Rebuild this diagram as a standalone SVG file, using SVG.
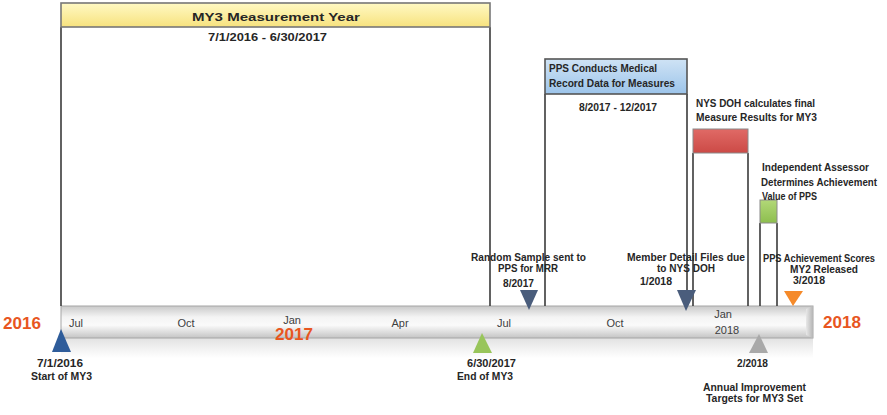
<svg xmlns="http://www.w3.org/2000/svg" width="887" height="415" viewBox="0 0 887 415">
<defs>
<style>
.t{font-family:"Liberation Sans",Arial,sans-serif;font-weight:bold;font-size:11px;fill:#262626}
.m{font-family:"Liberation Sans",Arial,sans-serif;font-size:11px;fill:#404040}
.yr{font-family:"Liberation Sans",Arial,sans-serif;font-weight:bold;font-size:17px;fill:#E8561F}
.line{stroke:#3a3a3a;stroke-width:1.6;fill:none}
</style>
<linearGradient id="gy" x1="0" y1="0" x2="0" y2="1"><stop offset="0" stop-color="#FFF9C4"/><stop offset="1" stop-color="#F7E27E"/></linearGradient>
<linearGradient id="gb" x1="0" y1="0" x2="0" y2="1"><stop offset="0" stop-color="#CFE3F5"/><stop offset="1" stop-color="#9CC4EA"/></linearGradient>
<linearGradient id="gr" x1="0" y1="0" x2="0" y2="1"><stop offset="0" stop-color="#E06A66"/><stop offset="1" stop-color="#CC4A46"/></linearGradient>
<linearGradient id="gg" x1="0" y1="0" x2="0" y2="1"><stop offset="0" stop-color="#B2D878"/><stop offset="1" stop-color="#8DBE4E"/></linearGradient>
<linearGradient id="gbar" x1="0" y1="0" x2="0" y2="1"><stop offset="0" stop-color="#C9C9C9"/><stop offset="0.35" stop-color="#F4F4F4"/><stop offset="0.6" stop-color="#FAFAFA"/><stop offset="1" stop-color="#C4C4C4"/></linearGradient>
<linearGradient id="gref" x1="0" y1="0" x2="0" y2="1"><stop offset="0" stop-color="#E2E2E2"/><stop offset="1" stop-color="#FFFFFF"/></linearGradient>
<linearGradient id="gend" x1="0" y1="0" x2="1" y2="0"><stop offset="0" stop-color="#E8E8E8"/><stop offset="1" stop-color="#B5B5B5"/></linearGradient>
</defs>
<rect width="887" height="415" fill="#fff"/>

<g id="timeline-bar">
<rect x="61" y="338" width="752" height="20" fill="url(#gref)"/>
<rect x="61" y="306" width="752" height="32" fill="url(#gbar)" stroke="#A6A6A6" stroke-width="1"/>
<polygon points="806,309 813,306 813,338 806,335" fill="url(#gend)"/>
<text class="m" x="76" y="327" text-anchor="middle">Jul</text>
<text class="m" x="186" y="327" text-anchor="middle">Oct</text>
<text class="m" x="292" y="324" text-anchor="middle">Jan</text>
<text class="m" x="400" y="327" text-anchor="middle">Apr</text>
<text class="m" x="504" y="327" text-anchor="middle">Jul</text>
<text class="m" x="615" y="327" text-anchor="middle">Oct</text>
<text class="m" x="723" y="318" text-anchor="middle">Jan</text>
<text class="m" x="727" y="334" text-anchor="middle">2018</text>
<text class="yr" x="3" y="329" textLength="38" lengthAdjust="spacingAndGlyphs">2016</text>
<text class="yr" x="275" y="340" textLength="38" lengthAdjust="spacingAndGlyphs">2017</text>
<text class="yr" x="823" y="328" textLength="38" lengthAdjust="spacingAndGlyphs">2018</text>
</g>

<g id="connectors">
<line class="line" x1="61" y1="27" x2="61" y2="306"/>
<line class="line" x1="490" y1="27" x2="490" y2="306"/>
<line class="line" x1="545" y1="94" x2="545" y2="306"/>
<line class="line" x1="687" y1="94" x2="687" y2="306"/>
<line class="line" x1="693" y1="153" x2="693" y2="306"/>
<line class="line" x1="748" y1="153" x2="748" y2="306"/>
<line class="line" x1="760" y1="223" x2="760" y2="306"/>
<line class="line" x1="777" y1="223" x2="777" y2="306"/>
</g>

<g id="my3-year">
<rect x="61" y="3" width="429" height="24" fill="url(#gy)" stroke="#777" stroke-width="1.6"/>
<text class="t" x="192" y="21" font-size="15" textLength="168" lengthAdjust="spacingAndGlyphs">MY3 Measurement Year</text>
<text class="t" x="208" y="41" textLength="119" lengthAdjust="spacingAndGlyphs">7/1/2016 - 6/30/2017</text>
</g>

<g id="pps-medical-record">
<rect x="545" y="59" width="142" height="35" fill="url(#gb)" stroke="#555" stroke-width="1.6"/>
<text class="t" x="549" y="72" textLength="108" lengthAdjust="spacingAndGlyphs">PPS Conducts Medical</text>
<text class="t" x="549" y="87" textLength="126" lengthAdjust="spacingAndGlyphs">Record Data for Measures</text>
<text class="t" x="579" y="111" textLength="78" lengthAdjust="spacingAndGlyphs">8/2017 - 12/2017</text>
</g>

<g id="nys-doh-calculates">
<rect x="693" y="129" width="55" height="24" fill="url(#gr)" stroke="#8a8a8a" stroke-width="1"/>
<text class="t" x="696" y="107" textLength="119" lengthAdjust="spacingAndGlyphs">NYS DOH calculates final</text>
<text class="t" x="696" y="121" textLength="121" lengthAdjust="spacingAndGlyphs">Measure Results for MY3</text>
</g>

<g id="independent-assessor">
<rect x="760" y="200" width="17" height="23" fill="url(#gg)" stroke="#8a8a8a" stroke-width="1"/>
<text class="t" x="762" y="171" textLength="107" lengthAdjust="spacingAndGlyphs">Independent Assessor</text>
<text class="t" x="761" y="186" font-size="10" textLength="116" lengthAdjust="spacingAndGlyphs">Determines Achievement</text>
<text class="t" x="762" y="200" textLength="55" lengthAdjust="spacingAndGlyphs">Value of PPS</text>
</g>

<g id="random-sample">
<polygon points="520,290 538,290 529,310" fill="#4A5D7C"/>
<text class="t" x="471" y="261" textLength="115" lengthAdjust="spacingAndGlyphs">Random Sample sent to</text>
<text class="t" x="498" y="272" textLength="60" lengthAdjust="spacingAndGlyphs">PPS for MRR</text>
<text class="t" x="503" y="287" textLength="31" lengthAdjust="spacingAndGlyphs">8/2017</text>
</g>

<g id="member-detail-files">
<polygon points="677,290 696,290 686,311" fill="#4A5D7C"/>
<text class="t" x="627" y="261" textLength="118" lengthAdjust="spacingAndGlyphs">Member Detail Files due</text>
<text class="t" x="657" y="272" textLength="58" lengthAdjust="spacingAndGlyphs">to NYS DOH</text>
<text class="t" x="640" y="285" textLength="32" lengthAdjust="spacingAndGlyphs">1/2018</text>
</g>

<g id="pps-achievement-scores">
<polygon points="784,291 803,291 793,306" fill="#F58A2A"/>
<text class="t" x="763" y="262" font-size="9.8" textLength="112" lengthAdjust="spacingAndGlyphs">PPS Achievement Scores</text>
<text class="t" x="790" y="273" textLength="68" lengthAdjust="spacingAndGlyphs">MY2 Released</text>
<text class="t" x="793" y="284" textLength="32" lengthAdjust="spacingAndGlyphs">3/2018</text>
</g>

<g id="start-my3">
<polygon points="52,352 71,352 61,329" fill="#2E5C9A"/>
<text class="t" x="37" y="367" textLength="46" lengthAdjust="spacingAndGlyphs">7/1/2016</text>
<text class="t" x="31" y="380" textLength="61" lengthAdjust="spacingAndGlyphs">Start of MY3</text>
</g>

<g id="end-my3">
<polygon points="473,353 492,353 482,333" fill="#98C55A"/>
<text class="t" x="467" y="367" textLength="49" lengthAdjust="spacingAndGlyphs">6/30/2017</text>
<text class="t" x="457" y="380" textLength="56" lengthAdjust="spacingAndGlyphs">End of MY3</text>
</g>

<g id="annual-improvement">
<polygon points="749,353 768,353 759,334" fill="#A9A9A9"/>
<text class="t" x="737" y="367" textLength="31" lengthAdjust="spacingAndGlyphs">2/2018</text>
<text class="t" x="703" y="391" textLength="103" lengthAdjust="spacingAndGlyphs">Annual Improvement</text>
<text class="t" x="706" y="402" textLength="97" lengthAdjust="spacingAndGlyphs">Targets for MY3 Set</text>
</g>
</svg>
